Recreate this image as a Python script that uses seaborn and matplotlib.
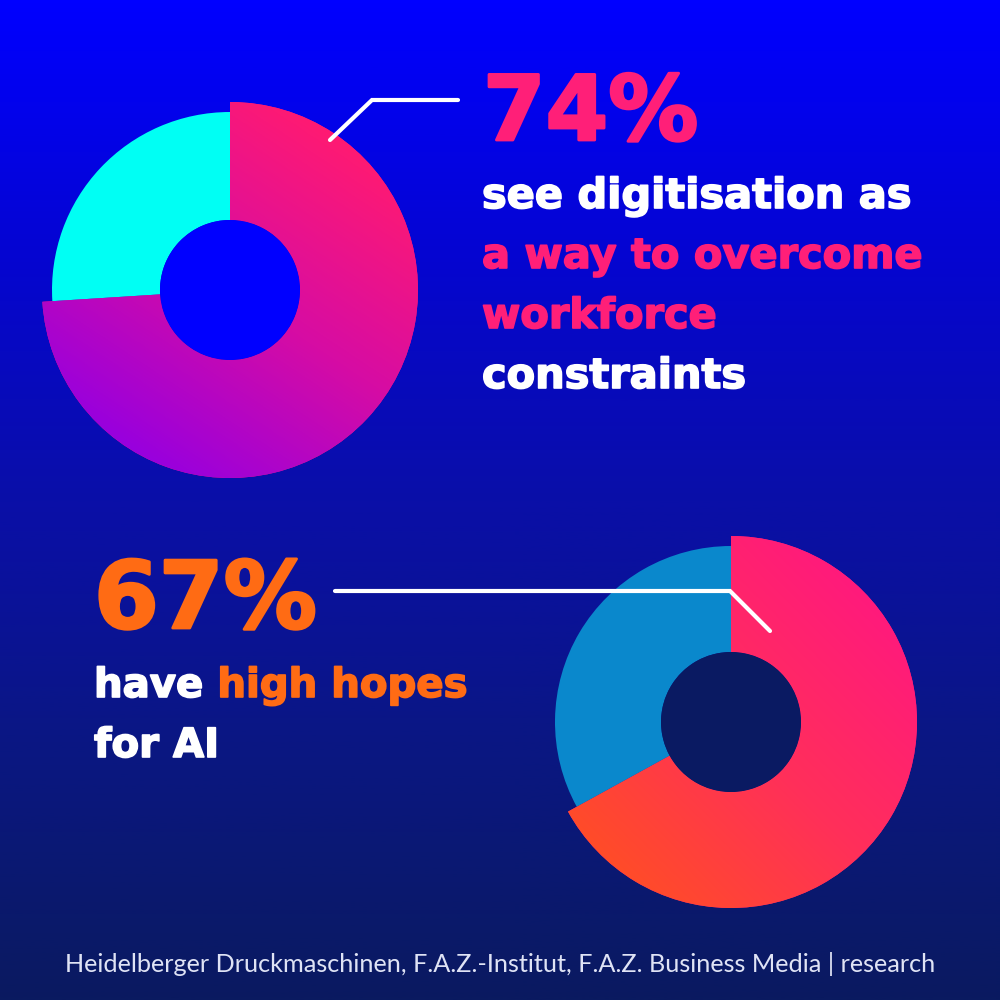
import numpy as np
import matplotlib
matplotlib.use("Agg")
import matplotlib.pyplot as plt
import matplotlib.patheffects as pe
import seaborn as sns
from matplotlib.colors import LinearSegmentedColormap
from matplotlib.patches import Circle

sns.set_theme(style="white")
plt.rcParams['font.family'] = ['Lato', 'DejaVu Sans']

# ---------------- data ----------------
top_labels = ["see digitisation as a way to overcome workforce constraints", "others"]
top_values = [74, 26]
bottom_labels = ["have high hopes for AI", "others"]
bottom_values = [67, 33]
top_pct = "74%"
bottom_pct = "67%"
top_lines = [("see digitisation as", "white"), ("a way to overcome", "pink"),
             ("workforce", "pink"), ("constraints", "white")]
bottom_line1 = ("have", "high hopes")
bottom_line2 = "for AI"
source = "Heidelberger Druckmaschinen, F.A.Z.-Institut, F.A.Z. Business Media | research"

# ---------------- styling ----------------
PINK = "#ff1f78"
ORANGE = "#ff6b14"
WHITE = "#ffffff"
W = H = 1000

fig = plt.figure(figsize=(10, 10), dpi=100)
ax = fig.add_axes([0, 0, 1, 1])

# background gradient
bg = LinearSegmentedColormap.from_list("bg", ["#0000ff", "#0505d2", "#0a0fa8", "#0a1782", "#0a1a60"])
ax.imshow(np.linspace(0, 1, 512).reshape(-1, 1), cmap=bg, extent=[0, W, 0, H],
          origin="upper", aspect="auto", zorder=0)


def donut(values, center_px, r_main, r_rest, r_in, grad_cols, direction, rest_color, hole_color):
    cx, cy = center_px[0], H - center_px[1]
    wedges, _ = ax.pie(values, center=(cx, cy), radius=r_main, startangle=90,
                       counterclock=False, colors=[grad_cols[0], rest_color],
                       wedgeprops=dict(width=r_main - r_in, linewidth=0), frame=True)
    for w in wedges:
        w.set_zorder(2)
    wedges[1].set_radius(r_rest)
    wedges[1].set_width(r_rest - r_in)
    n = 400
    xs = np.linspace(-1, 1, n)
    X, Y = np.meshgrid(xs, xs[::-1])
    dx, dy = direction
    t = np.clip((1 - (X * dx + Y * dy)) / 2, 0, 1)
    cmap = LinearSegmentedColormap.from_list("g", grad_cols)
    im = ax.imshow(cmap(t), extent=[cx - r_main, cx + r_main, cy - r_main, cy + r_main],
                   origin="upper", zorder=3)
    im.set_clip_path(wedges[0])
    ax.add_patch(Circle((cx, cy), r_in, color=hole_color, zorder=4, lw=0))


donut(top_values, (230, 290), 188, 178, 70,
      ["#ff1a72", "#d60ca4", "#9800de"], (0.55, 0.83), "#00fff4", "#0000ff")
donut(bottom_values, (731, 722), 186, 176, 70,
      ["#ff1a7c", "#ff2f5a", "#ff4c28"], (0.7, 0.7), "#0a88cc", "#0a1a62")

# callout lines
ax.plot([330, 372, 458], [H - 140, H - 100, H - 100], color=WHITE, lw=3,
        solid_capstyle="round", solid_joinstyle="miter", zorder=5)
ax.plot([335, 730, 770], [H - 591, H - 591, H - 631], color=WHITE, lw=3,
        solid_capstyle="round", solid_joinstyle="miter", zorder=5)

ax.set_xlim(0, W)
ax.set_ylim(0, H)
ax.set_aspect("auto")
ax.axis("off")

fig.canvas.draw()
renderer = fig.canvas.get_renderer()


def width_of(s, size, **kw):
    t = ax.text(0, 0, s, fontsize=size, **kw)
    w = t.get_window_extent(renderer).width
    t.remove()
    return w


def fit_size(s, target, **kw):
    return 40 * target / width_of(s, 40, **kw)


heavy = dict(fontweight="bold", family=["DejaVu Sans"])
cmap_col = {"white": WHITE, "pink": PINK}


def htext(x, y, s, size, color, ha="left", stroke=1.2):
    ax.text(x, y, s, fontsize=size, color=color, va="baseline", ha=ha, zorder=6,
            path_effects=[pe.withStroke(linewidth=stroke, foreground=color)], **heavy)


# top block
s74 = fit_size(top_pct, 215, **heavy)
htext(483, H - 140, top_pct, s74, PINK, stroke=2.0)
sz = fit_size(top_lines[0][0], 429, **heavy)
for i, (line, col) in enumerate(top_lines):
    htext(482, H - (208 + 60 * i), line, sz, cmap_col[col])

# bottom block
s67 = fit_size(bottom_pct, 223, **heavy)
htext(94, H - 628, bottom_pct, s67, ORANGE, stroke=2.0)
full = bottom_line1[0] + " " + bottom_line1[1]
sz2 = fit_size(full, 373, **heavy)
wfull = width_of(full, sz2, **heavy)
htext(94, H - 697, bottom_line1[0], sz2, WHITE)
htext(94 + wfull, H - 697, bottom_line1[1], sz2, ORANGE, ha="right")
htext(94, H - 757, bottom_line2, sz2, WHITE)

# footer
fs = fit_size(source, 870)
ax.text(500, H - 972, source, fontsize=fs, color="#dfe3f5", va="baseline", ha="center", zorder=6)

fig.savefig("out.png", dpi=100)
